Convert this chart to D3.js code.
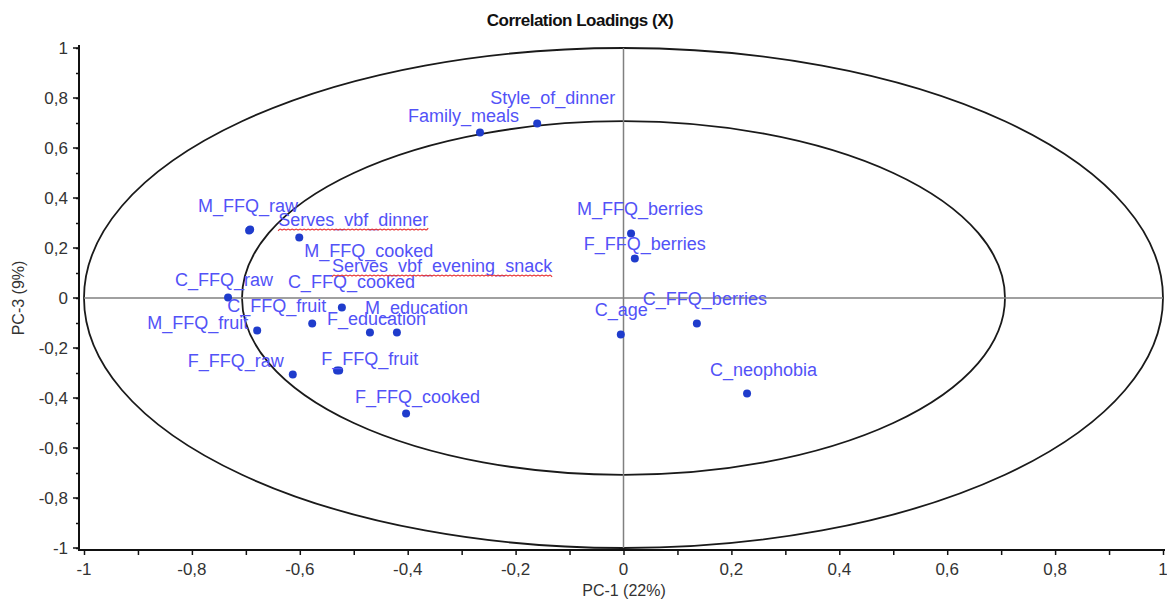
<!DOCTYPE html>
<html>
<head>
<meta charset="utf-8">
<script src="https://cdn.jsdelivr.net/npm/d3@7"></script>
<style>
  body { margin: 0; background: #fff; }
  svg { display: block; font-family: "Liberation Sans", Arial, sans-serif; }
</style>
</head>
<body>
<div id="chart"></div>
<script>
// variable names and loadings (PC-1, PC-3)
const names = [
  "Style_of_dinner", "Family_meals", "M_FFQ_raw", "Serves_vbf_dinner", "M_FFQ_cooked",
  "Serves_vbf_evening_snack", "C_FFQ_raw", "C_FFQ_cooked", "C_FFQ_fruit", "M_education",
  "F_education", "M_FFQ_fruit", "F_FFQ_raw", "F_FFQ_fruit", "F_FFQ_cooked",
  "M_FFQ_berries", "F_FFQ_berries", "C_FFQ_berries", "C_age", "C_neophobia"
];
const pc1 = [
  -0.160, -0.266, -0.694, -0.692, -0.601,
  -0.531, -0.733, -0.522, -0.577, -0.420,
  -0.470, -0.679, -0.613, -0.527, -0.403,
  0.014, 0.021, 0.136, -0.005, 0.229
];
const pc3 = [
  0.698, 0.662, 0.270, 0.274, 0.242,
  -0.290, 0.002, -0.038, -0.102, -0.138,
  -0.138, -0.130, -0.306, -0.290, -0.462,
  0.258, 0.158, -0.102, -0.146, -0.382
];
// labels flagged by the spell checker (red wavy underline)
const squiggly = ["Serves_vbf_dinner", "Serves_vbf_evening_snack"];

const xTicks = [-1, -0.8, -0.6, -0.4, -0.2, 0, 0.2, 0.4, 0.6, 0.8, 1];
const yTicks = [-1, -0.8, -0.6, -0.4, -0.2, 0, 0.2, 0.4, 0.6, 0.8, 1];
const minorTicks = d3.range(-10, 11).map(i => i / 10);

// label nudges in pixels (from the dot to the text baseline start)
const labelNudge = [
  [-47, -20], [-72, -11], [-51, -19], [28, -4], [5, 19],
  [-5, -99], [-53, -12], [-54, -20], [-85, -12], [-32, -19],
  [-43, -8], [-110, -2], [-105, -8], [-18, -6], [-51, -11],
  [-54, -19], [-51, -9], [-54, -19], [-26, -19], [-37, -18]
];

const width = 1167, height = 604;
const svg = d3.select("#chart").append("svg")
  .attr("width", width).attr("height", height);

const x = d3.scaleLinear().domain([-1, 1]).range([84, 1163]);
const y = d3.scaleLinear().domain([-1, 1]).range([548, 48]);
const fmt = v => (v === 0 ? "0" : String(+v.toFixed(1)).replace(".", ","));

// title
svg.append("text")
  .attr("x", 580).attr("y", 26)
  .attr("text-anchor", "middle")
  .attr("font-size", 17).attr("font-weight", "bold")
  .attr("letter-spacing", -0.5)
  .attr("fill", "#111")
  .text("Correlation Loadings (X)");

// circles of 100% and 50% explained variance
[1, Math.SQRT1_2].forEach(r => {
  svg.append("ellipse")
    .attr("cx", x(0)).attr("cy", y(0))
    .attr("rx", x(r) - x(0)).attr("ry", y(0) - y(r))
    .attr("fill", "none").attr("stroke", "#1a1a1a").attr("stroke-width", 1.8);
});

// zero lines
svg.append("line")
  .attr("x1", x(-1)).attr("x2", x(1)).attr("y1", y(0)).attr("y2", y(0))
  .attr("stroke", "#808080").attr("stroke-width", 1.5);
svg.append("line")
  .attr("x1", x(0)).attr("x2", x(0)).attr("y1", y(1)).attr("y2", y(-1))
  .attr("stroke", "#808080").attr("stroke-width", 1.5);

// axes
const yAxisX = 79, xAxisY = 550;
const gx = svg.append("g").attr("transform", `translate(0,${xAxisY})`);
gx.call(d3.axisBottom(x).tickValues(minorTicks).tickSize(5).tickFormat(""));
gx.call(g => g.select(".domain").remove());
gx.selectAll("line").attr("stroke", "#111").attr("stroke-width", 1.5);
gx.selectAll(".lbl").data(xTicks).enter().append("text")
  .attr("x", d => x(d)).attr("y", 25)
  .attr("text-anchor", "middle").attr("font-size", 17).attr("fill", "#333")
  .text(fmt);
gx.append("line").attr("x1", yAxisX).attr("x2", 1165).attr("y1", 0).attr("y2", 0)
  .attr("stroke", "#111").attr("stroke-width", 2);

const gy = svg.append("g").attr("transform", `translate(${yAxisX},0)`);
gy.call(d3.axisLeft(y).tickValues(minorTicks).tickSize(3).tickFormat(""));
gy.call(g => g.select(".domain").remove());
gy.selectAll("line").attr("stroke", "#111").attr("stroke-width", 1.5);
gy.selectAll(".major").data(yTicks).enter().append("line")
  .attr("x1", -6).attr("x2", 0).attr("y1", d => y(d)).attr("y2", d => y(d))
  .attr("stroke", "#111").attr("stroke-width", 1.5);
gy.selectAll(".lbl").data(yTicks).enter().append("text")
  .attr("x", -11).attr("y", d => y(d) + 6)
  .attr("text-anchor", "end").attr("font-size", 17).attr("fill", "#333")
  .text(fmt);
gy.append("line").attr("x1", 0).attr("x2", 0).attr("y1", 45).attr("y2", xAxisY + 1)
  .attr("stroke", "#111").attr("stroke-width", 2);

// axis titles
svg.append("text")
  .attr("x", 624).attr("y", 596)
  .attr("text-anchor", "middle").attr("font-size", 16).attr("fill", "#333")
  .text("PC-1 (22%)");
svg.append("text")
  .attr("transform", `translate(24,${y(0)}) rotate(-90)`)
  .attr("text-anchor", "middle").attr("font-size", 16).attr("fill", "#333")
  .text("PC-3 (9%)");

// points
const idx = d3.range(names.length);
svg.append("g").selectAll("circle").data(idx).enter().append("circle")
  .attr("cx", i => x(pc1[i])).attr("cy", i => y(pc3[i]))
  .attr("r", 4).attr("fill", "#1f3ccc");

// labels
const labels = svg.append("g").selectAll("text").data(idx).enter().append("text")
  .attr("x", i => x(pc1[i]) + labelNudge[i][0])
  .attr("y", i => y(pc3[i]) + labelNudge[i][1])
  .attr("font-size", 18).attr("fill", "#5252f7")
  .text(i => names[i]);

// red wavy underlines
labels.filter(i => squiggly.includes(names[i])).each(function(i) {
  const b = this.getBBox();
  const y0 = +d3.select(this).attr("y") + 4;
  const pts = d3.range(b.x, b.x + b.width, 2).map((px, k) => [px, y0 + (k % 2 ? -1.3 : 1.3)]);
  svg.append("path")
    .attr("d", d3.line().curve(d3.curveBasis)(pts))
    .attr("fill", "none").attr("stroke", "#e83a3a").attr("stroke-width", 1.2);
});
</script>
</body>
</html>
